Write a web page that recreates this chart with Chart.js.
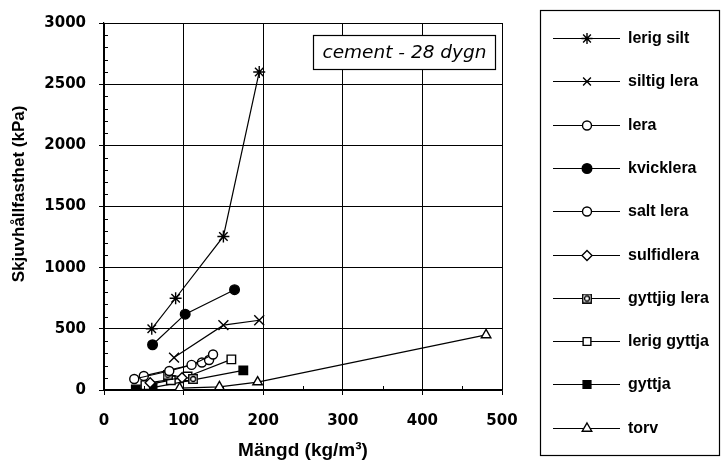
<!DOCTYPE html>
<html>
<head>
<meta charset="utf-8">
<script src="https://cdn.jsdelivr.net/npm/chart.js@4/dist/chart.umd.min.js"></script>
<style>
  html, body { margin: 0; padding: 0; background: #fff; }
  #wrap { width: 721px; height: 465px; position: relative; }
</style>
</head>
<body>
<div id="wrap"><canvas id="c"></canvas></div>
<script>
// Shear strength after 28 days, cement stabilised soils
const xTickLabels = ['0', '100', '200', '300', '400', '500'];
const yTickLabels = ['0', '500', '1000', '1500', '2000', '2500', '3000'];
const xTitle = 'Mängd (kg/m³)';
const yTitle = 'Skjuvhållfasthet (kPa)';
const captionText = 'cement - 28 dygn';

const lerigSiltX = [60, 90, 150, 195];
const lerigSiltY = [500, 750, 1255, 2600];

const siltigLeraX = [88, 150, 195];
const siltigLeraY = [265, 530, 570];

const leraX = [38, 82, 110, 137];
const leraY = [90, 155, 205, 290];

const kvickleraX = [61, 102, 164];
const kvickleraY = [370, 620, 820];

const saltLeraX = [50, 123, 132];
const saltLeraY = [115, 225, 245];

const sulfidleraX = [58, 98];
const sulfidleraY = [60, 100];

const gyttjigLeraX = [80, 112];
const gyttjigLeraY = [125, 90];

const lerigGyttjaX = [52, 84, 105, 160];
const lerigGyttjaY = [40, 80, 110, 250];

const gyttjaX = [40, 61, 175];
const gyttjaY = [5, 20, 160];

const torvX = [95, 145, 193, 480];
const torvY = [15, 25, 65, 450];

// square with a small ring inside
function boxedRing(size) {
  const cv = document.createElement('canvas');
  cv.width = size; cv.height = size;
  const g = cv.getContext('2d');
  g.fillStyle = '#fff';
  g.fillRect(0.5, 0.5, size - 1, size - 1);
  g.strokeStyle = '#000';
  g.lineWidth = 1.4;
  g.strokeRect(0.75, 0.75, size - 1.5, size - 1.5);
  g.beginPath();
  g.arc(size / 2, size / 2, size / 4, 0, Math.PI * 2);
  g.lineWidth = 1.3;
  g.stroke();
  return cv;
}
const ringBoxMarker = boxedRing(10);

function pts(xs, ys) { return xs.map((x, i) => ({ x: x, y: ys[i] })); }

function series(label, xs, ys, style, radius, fill) {
  return {
    label: label,
    data: pts(xs, ys),
    showLine: true,
    borderColor: '#000',
    borderWidth: 1.2,
    pointStyle: style,
    pointRadius: radius,
    pointBackgroundColor: fill,
    pointBorderColor: '#000',
    pointBorderWidth: 1.4,
    tension: 0
  };
}

const datasets = [
  series('lerig silt', lerigSiltX, lerigSiltY, 'star', 6, '#fff'),
  series('siltig lera', siltigLeraX, siltigLeraY, 'crossRot', 7, '#fff'),
  series('lera', leraX, leraY, 'circle', 4.5, '#fff'),
  series('kvicklera', kvickleraX, kvickleraY, 'circle', 4.8, '#000'),
  series('salt lera', saltLeraX, saltLeraY, 'circle', 4.5, '#fff'),
  series('sulfidlera', sulfidleraX, sulfidleraY, 'rectRot', 5, '#fff'),
  series('gyttjig lera', gyttjigLeraX, gyttjigLeraY, ringBoxMarker, 5, '#fff'),
  series('lerig gyttja', lerigGyttjaX, lerigGyttjaY, 'rect', 6, '#fff'),
  series('gyttja', gyttjaX, gyttjaY, 'rect', 6, '#000'),
  series('torv', torvX, torvY, 'triangle', 5.5, '#fff')
];

// small inner ticks between the labelled ones
const minorTicks = {
  id: 'minorTicks',
  afterDraw(chart) {
    const { ctx, scales: { x, y }, chartArea: a } = chart;
    ctx.save();
    ctx.strokeStyle = '#000';
    ctx.lineWidth = 1;
    ctx.beginPath();
    for (let v = 100; v < 3000; v += 100) {
      if (v % 500 === 0) continue;
      const py = Math.round(y.getPixelForValue(v)) + 0.5;
      ctx.moveTo(a.left, py); ctx.lineTo(a.left + 4, py);
    }
    for (let v = 50; v < 500; v += 100) {
      const px = Math.round(x.getPixelForValue(v)) + 0.5;
      ctx.moveTo(px, a.bottom); ctx.lineTo(px, a.bottom - 4);
    }
    ctx.stroke();
    ctx.restore();
  }
};

// rotated value-axis title
const sideTitle = {
  id: 'sideTitle',
  afterDraw(chart) {
    const ctx = chart.ctx;
    ctx.save();
    ctx.translate(19, 194);
    ctx.rotate(-Math.PI / 2);
    ctx.fillStyle = '#000';
    ctx.font = 'bold 17px "Liberation Sans"';
    ctx.textAlign = 'center';
    ctx.textBaseline = 'middle';
    ctx.fillText(yTitle, 0, 0);
    ctx.restore();
  }
};

// boxed caption inside the plot
const caption = {
  id: 'caption',
  afterDraw(chart) {
    const ctx = chart.ctx;
    ctx.save();
    ctx.fillStyle = '#fff';
    ctx.fillRect(313.5, 35.5, 182, 34);
    ctx.strokeStyle = '#000';
    ctx.lineWidth = 1.2;
    ctx.strokeRect(313.5, 35.5, 182, 34);
    ctx.fillStyle = '#000';
    ctx.font = 'italic 18.5px "DejaVu Sans"';
    ctx.textAlign = 'center';
    ctx.textBaseline = 'middle';
    ctx.fillText(captionText, 404.5, 53);
    ctx.restore();
  }
};

// framed legend with line-through-marker keys
const boxLegend = {
  id: 'boxLegend',
  afterDraw(chart) {
    const ctx = chart.ctx;
    ctx.save();
    ctx.strokeStyle = '#000';
    ctx.lineWidth = 1.2;
    ctx.strokeRect(540.5, 10.5, 179, 445);
    chart.data.datasets.forEach((ds, i) => {
      const yy = Math.round(38 + i * 43.3) + 0.5;
      ctx.beginPath();
      ctx.lineWidth = 1.2;
      ctx.strokeStyle = '#000';
      ctx.moveTo(553, yy); ctx.lineTo(620, yy);
      ctx.stroke();
      ctx.fillStyle = ds.pointBackgroundColor;
      ctx.strokeStyle = '#000';
      ctx.lineWidth = 1.4;
      Chart.helpers.drawPoint(ctx, {
        pointStyle: ds.pointStyle,
        radius: Math.min(ds.pointRadius, 5.5),
        rotation: 0,
        borderWidth: 1.4
      }, 587, yy);
      ctx.fillStyle = '#000';
      ctx.font = 'bold 16px "Liberation Sans"';
      ctx.textAlign = 'left';
      ctx.textBaseline = 'middle';
      ctx.fillText(ds.label, 628, yy);
    });
    ctx.restore();
  }
};

new Chart(document.getElementById('c'), {
  type: 'scatter',
  data: { datasets: datasets },
  options: {
    responsive: true,
    maintainAspectRatio: false,
    animation: false,
    layout: { padding: { left: 0, top: 23, right: 219, bottom: 0 } },
    plugins: { legend: { display: false }, tooltip: { enabled: false } },
    scales: {
      x: {
        type: 'linear',
        min: 0, max: 500,
        afterFit(s) { s.height = 75; },
        border: { display: true, color: '#000', width: 1.2 },
        grid: { color: '#000', lineWidth: 1, tickLength: 5, drawTicks: true, tickColor: '#000' },
        ticks: {
          stepSize: 100,
          padding: 17,
          color: '#000',
          font: { family: 'DejaVu Sans', size: 15, weight: 'bold' },
          callback: (v, i) => xTickLabels[i]
        },
        title: {
          display: true,
          text: xTitle,
          color: '#000',
          font: { family: 'Liberation Sans', size: 19, weight: 'bold' },
          padding: { top: 0, bottom: 3 }
        }
      },
      y: {
        type: 'linear',
        min: 0, max: 3000,
        afterFit(s) { s.width = 104; },
        border: { display: true, color: '#000', width: 1.2 },
        grid: { color: '#000', lineWidth: 1, tickLength: 5, drawTicks: true, tickColor: '#000' },
        ticks: {
          stepSize: 500,
          padding: 13,
          color: '#000',
          font: { family: 'DejaVu Sans', size: 15, weight: 'bold' },
          callback: (v, i) => yTickLabels[i]
        },
        title: { display: false }
      }
    }
  },
  plugins: [minorTicks, sideTitle, caption, boxLegend]
});
</script>
</body>
</html>
